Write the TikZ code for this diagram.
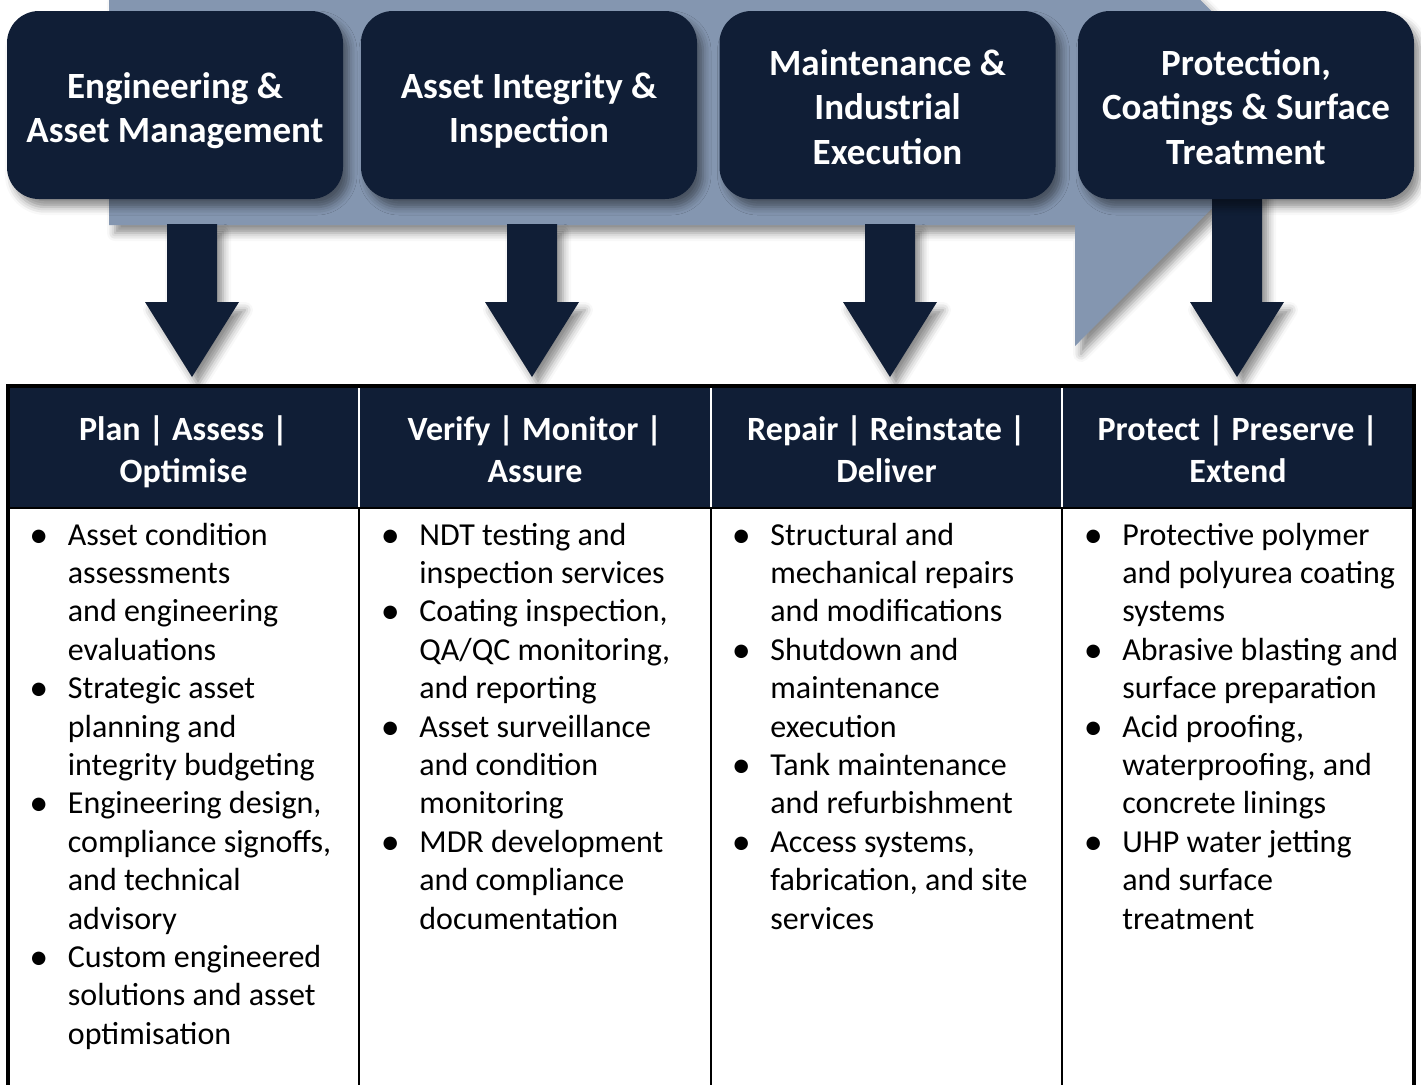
\documentclass[tikz,border=0pt]{standalone}
\usepackage{fontspec}
\setmainfont{Carlito}
\usetikzlibrary{calc,shadows.blur}
\definecolor{navy}{HTML}{101E36}
\definecolor{steel}{HTML}{8496B0}
\newcommand{\SCShaftHalf}{25}
\newcommand{\SCHeadHalf}{47}
\newcommand{\SCHeadTop}{302}
\newcommand{\SCTip}{377}
\newcommand{\SCDownArrow}[3]{
  \coordinate (#1) at (#2,\SCTip);
  \fill [navy, softshadow] (#2-\SCShaftHalf,#3) -- (#2+\SCShaftHalf,#3)
    -- (#2+\SCShaftHalf,\SCHeadTop) -- (#2+\SCHeadHalf,\SCHeadTop) -- (#1)
    -- (#2-\SCHeadHalf,\SCHeadTop) -- (#2-\SCShaftHalf,\SCHeadTop) -- cycle;
}
\newcommand{\SCBullet}{\makebox[18.5pt][l]{\hspace*{-0.8pt}\raisebox{-1pt}{\fontsize{19pt}{19.2pt}\selectfont •}}}
\newcommand{\SCIndent}{\hspace*{18.5pt}}
\tikzset{
  softshadow/.style={blur shadow={shadow xshift=3pt, shadow yshift=-4pt, shadow blur radius=4pt, shadow opacity=45}},
  areabox/.style={fill=navy, rounded corners=16pt, minimum width=168pt, minimum height=94pt, softshadow},
  areatext/.style={text=white, align=center, font=\fontsize{18.5pt}{22.2pt}\selectfont\bfseries},
  colhead/.style={text=white, align=center, font=\fontsize{17pt}{21pt}\selectfont\bfseries},
  colbody/.style={anchor=base west, align=left, inner sep=0pt, font=\fontsize{16pt}{19.2pt}\selectfont},
}
\begin{document}
\begin{tikzpicture}[x=0.5pt, y=-0.5pt]
\useasboundingbox (0,0) rectangle (1421,1084);
\clip (0,0) rectangle (1421,1084);
% big flow arrow behind the areas
\fill [steel, softshadow] (109,-5) -- (1075,-5) -- (1075,-126) -- (1310,110)
  -- (1075,346) -- (1075,225) -- (109,225) -- cycle;

% down arrows
\SCDownArrow{d1}{192}{224}
\SCDownArrow{d2}{532}{224}
\SCDownArrow{d3}{890}{224}
\SCDownArrow{d4}{1237}{190}

% service areas
\node [areabox] (t1) at (175,105) {};
\node [areabox] (t2) at (529,105) {};
\node [areabox] (t3) at (887.5,105) {};
\node [areabox] (t4) at (1246,105) {};
\node [areatext, yshift=-2.75pt] (t1text) at (t1.center) {Engineering \&\\Asset Management};
\node [areatext, yshift=-2.75pt] (t2text) at (t2.center) {Asset Integrity \&\\Inspection};
\node [areatext, yshift=-1pt] (t3text) at (t3.center) {Maintenance \&\\Industrial\\Execution};
\node [areatext, yshift=-1pt] (t4text) at (t4.center) {Protection,\\Coatings \& Surface\\Treatment};

% table
\fill [navy] (8,386) rectangle (1414,508);
\foreach \x in {359,711,1062} {
  \draw [white, line width=1pt] (\x,386) -- (\x,508);
  \draw [line width=1.2pt] (\x,508) -- (\x,1100);
}
\draw [line width=1pt] (8,508) -- (1414,508);
\draw [line width=1.6pt] (8,1100) -- (8,386) -- (1414,386) -- (1414,1100);

\node [colhead, yshift=-1.5pt] (h1) at (183.5,449) {Plan | Assess |\\Optimise};
\node [colhead] (h2) at (535,449) {Verify | Monitor |\\Assure};
\node [colhead] (h3) at (886.5,449) {Repair | Reinstate |\\Deliver};
\node [colhead] (h4) at (1238,449) {Protect | Preserve |\\Extend};

% bodies: anchored at the baseline of their last line
\node [colbody] (b1) at (30.5,1044.2) {\SCBullet Asset condition\\ \SCIndent assessments\\
  \SCIndent and engineering\\ \SCIndent evaluations\\
  \SCBullet Strategic asset\\ \SCIndent planning and\\ \SCIndent integrity budgeting\\
  \SCBullet Engineering design,\\ \SCIndent compliance signoffs,\\ \SCIndent and technical\\ \SCIndent advisory\\
  \SCBullet Custom engineered\\ \SCIndent solutions and asset\\ \SCIndent optimisation};
\node [colbody] (b2) at (382,929) {\SCBullet NDT testing and\\ \SCIndent inspection services\\
  \SCBullet Coating inspection,\\ \SCIndent QA/QC monitoring,\\ \SCIndent and reporting\\
  \SCBullet Asset surveillance\\ \SCIndent and condition\\ \SCIndent monitoring\\
  \SCBullet MDR development\\ \SCIndent and compliance\\ \SCIndent documentation};
\node [colbody] (b3) at (733,929) {\SCBullet Structural and\\ \SCIndent mechanical repairs\\
  \SCIndent and modifications\\
  \SCBullet Shutdown and\\ \SCIndent maintenance\\ \SCIndent execution\\
  \SCBullet Tank maintenance\\ \SCIndent and refurbishment\\
  \SCBullet Access systems,\\ \SCIndent fabrication, and site\\ \SCIndent services};
\node [colbody] (b4) at (1085,929) {\SCBullet Protective polymer\\ \SCIndent and polyurea coating\\
  \SCIndent systems\\
  \SCBullet Abrasive blasting and\\ \SCIndent surface preparation\\
  \SCBullet Acid proofing,\\ \SCIndent waterproofing, and\\ \SCIndent concrete linings\\
  \SCBullet UHP water jetting\\ \SCIndent and surface\\ \SCIndent treatment};
\end{tikzpicture}
\end{document}
